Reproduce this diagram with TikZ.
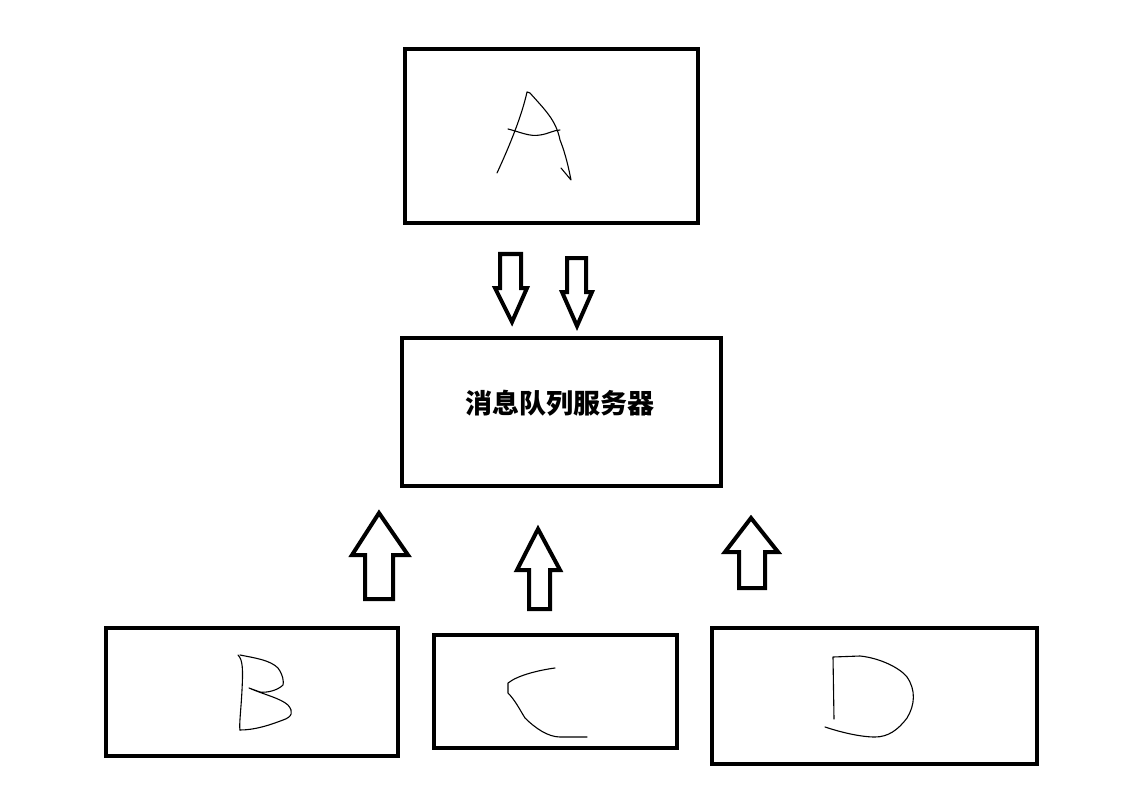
\documentclass[tikz,border=0pt]{standalone}
\usepackage{fontspec}
\newfontfamily\cjk{Noto Sans CJK SC}
\begin{document}
\begin{tikzpicture}[x=1pt,y=-1pt,
  box/.style={draw=black,line width=4pt,inner sep=0pt,outer sep=0pt,anchor=north west},
  blockarrow/.style={draw=black,line width=4pt,line join=miter,fill=white},
  hand/.style={draw=black,line width=1.1pt,line cap=round,line join=round}]
\useasboundingbox[fill=white] (0,0) rectangle (1126,810);
% boxes
\node[box,minimum width=293pt,minimum height=174pt] (A) at (405,49) {};
\node[box,minimum width=319pt,minimum height=148pt] (S) at (402,338) {};
\node[box,minimum width=292pt,minimum height=128pt] (B) at (106,628) {};
\node[box,minimum width=243pt,minimum height=113pt] (C) at (434,635) {};
\node[box,minimum width=325pt,minimum height=136pt] (D) at (712,628) {};
\node[font={\cjk\bfseries\fontsize{27}{27}\selectfont}] (St) at (560,403) {消息队列服务器};
% down arrows
\draw[blockarrow] (500,254) -- (521,254) -- (521,288) -- (527,288) -- (512,322) -- (495,288) -- (500,288) -- cycle;
\draw[blockarrow] (567,258) -- (586,258) -- (586,292) -- (592,292) -- (577,326) -- (562,292) -- (567,292) -- cycle;
% up arrows
\draw[blockarrow] (365,599) -- (393,599) -- (393,555) -- (408,555) -- (379,513) -- (352,555) -- (365,555) -- cycle;
\draw[blockarrow] (529,609) -- (550,609) -- (550,570) -- (560,570) -- (538,529) -- (517,570) -- (529,570) -- cycle;
\draw[blockarrow] (739,588) -- (765,588) -- (765,552) -- (778,552) -- (751,518) -- (725,552) -- (739,552) -- cycle;
% handwritten A
\draw[hand] (497,173) .. controls (510,145) and (522,115) .. (527,92) -- (530,93)
  .. controls (545,110) and (556,120) .. (560,140) .. controls (566,155) and (569,170) .. (571,180) -- (561,168);
\draw[hand] (508,129) .. controls (520,132) and (530,137) .. (540,135) .. controls (548,134) and (554,130) .. (560,130);
% handwritten B
\draw[hand] (238,655) .. controls (243,660) and (243,670) .. (242,690) .. controls (241,710) and (239,725) .. (240,730);
\draw[hand] (240,655) .. controls (255,658) and (270,660) .. (278,668) .. controls (283,675) and (284,682) .. (283,685)
  .. controls (278,690) and (268,693) .. (260,692) -- (249,688)
  .. controls (265,695) and (280,698) .. (288,705) .. controls (294,712) and (292,717) .. (283,720)
  .. controls (270,725) and (255,730) .. (240,730);
% handwritten C
\draw[hand] (555,668) .. controls (540,670) and (518,675) .. (508,683) -- (508,693)
  .. controls (515,700) and (520,710) .. (525,718) .. controls (535,728) and (548,737) .. (560,737) -- (587,737);
% handwritten D
\draw[hand] (834,719) -- (833,657) -- (860,656) .. controls (880,658) and (900,668) .. (907,677)
  .. controls (916,690) and (915,705) .. (907,718) .. controls (898,730) and (888,737) .. (875,737)
  .. controls (860,737) and (840,732) .. (825,727);
\end{tikzpicture}
\end{document}
